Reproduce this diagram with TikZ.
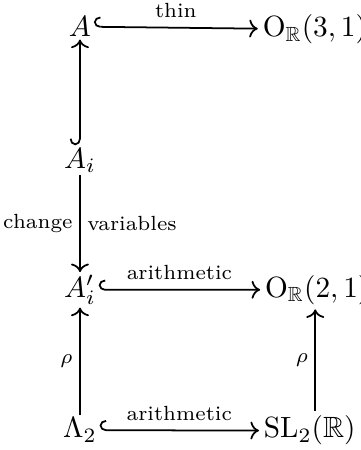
\documentclass[tikz,border=0pt]{standalone}
\usepackage{amsmath,amssymb}
\usetikzlibrary{arrows.meta}

\begin{document}
\begin{tikzpicture}[x=1pt, y=1pt,
    obj/.style={anchor=base, inner sep=0.8pt},
    robj/.style={anchor=base west, inner sep=1.5pt},
    lbl/.style={font=\scriptsize, inner sep=2.2pt},
    toplbl/.style={font=\scriptsize, inner sep=3pt, above},
    mono/.style={{Hooks[right, width=7pt, length=2.2pt]}-{Computer Modern Rightarrow}, line width=0.6pt},
    map/.style={-{Computer Modern Rightarrow}, line width=0.6pt}]
        \useasboundingbox (0,0) rectangle (122.9,153.6);
        % objects
        \node[obj] (A) at (27.3,141.1) {$A$};
        \node[robj] (O31) at (88,141.1) {$\mathrm{O}_{\mathbb{R}}(3,1)$};
        \node[obj] (Ai) at (27.3,96.2) {$A_i$};
        \node[obj] (Aip) at (27.3,52.2) {$A_i'$};
        \node[robj] (O21) at (88.8,52.2) {$\mathrm{O}_{\mathbb{R}}(2,1)$};
        \node[obj] (L2) at (27.3,4.1) {$\Lambda_2$};
        \node[robj] (SL2) at (88.4,4.1) {$\mathrm{SL}_2(\mathbb{R})$};
        \coordinate (rcol) at (107.6,0);
        % maps
        \draw[mono] (A) -- node[toplbl] {thin} (O31);
        \draw[mono] (Ai) -- (A);
        \draw[map] (Ai) -- node[lbl, left] {change} node[lbl, right] {variables} (Aip);
        \draw[mono] (Aip) -- node[toplbl] {arithmetic} (O21);
        \draw[map] (L2) -- node[lbl, left] {$\rho$} (Aip);
        \draw[mono] (L2) -- node[toplbl] {arithmetic} (SL2);
        \draw[map] (rcol |- SL2.north) -- node[lbl, left] {$\rho$} (rcol |- O21.south);
      \end{tikzpicture}
\end{document}
